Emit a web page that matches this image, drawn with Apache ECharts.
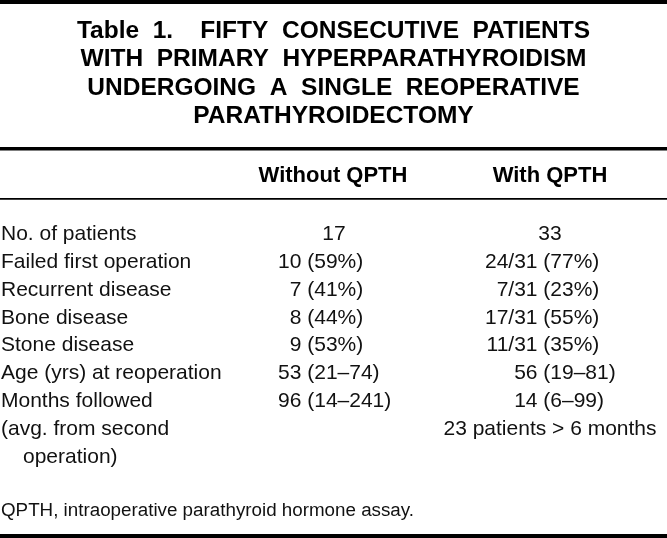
<!DOCTYPE html>
<html><head><meta charset="utf-8">
<script src="https://cdn.jsdelivr.net/npm/echarts@6/dist/echarts.min.js"></script>
<style>html,body{margin:0;padding:0;background:#fff}#c{width:667px;height:538px}</style>
</head><body><div id="c"></div>
<script>
// ---- table content ----
const titleLines = ['Table 1.  FIFTY CONSECUTIVE PATIENTS', 'WITH PRIMARY HYPERPARATHYROIDISM', 'UNDERGOING A SINGLE REOPERATIVE', 'PARATHYROIDECTOMY'];
const columnHeaders = ['Without QPTH', 'With QPTH'];
const rowLabels = ['No. of patients', 'Failed first operation', 'Recurrent disease', 'Bone disease', 'Stone disease', 'Age (yrs) at reoperation', 'Months followed', '(avg. from second\noperation)'];
const withoutQPTH = ['17', '10 (59%)', '7 (41%)', '8 (44%)', '9 (53%)', '53 (21–74)', '96 (14–241)', ''];
const withQPTH = ['33', '24/31 (77%)', '7/31 (23%)', '17/31 (55%)', '11/31 (35%)', '56 (19–81)', '14 (6–99)', '23 patients > 6 months'];
const footnote = 'QPTH, intraoperative parathyroid hormone assay.';

// ---- layout ----
const FONT = "'Liberation Sans', Arial, Helvetica, sans-serif";
const W = 667;
const colCenters = [334, 550];     // x-axis values of column centres
const colAnchors = [301.4, 537.5]; // alignment point (before the parenthesis)
const labelX = 1, hangIndent = 22;
const bodySize = 21, ink = '#111';

const chart = echarts.init(document.getElementById('c'), null, {renderer: 'canvas'});

function txt(s, x, y, align) {
  return {
    type: 'text', x: x, y: y,
    style: {text: s, fill: ink, fontSize: bodySize, fontFamily: FONT,
      align: align, textAlign: align, verticalAlign: 'middle', textVerticalAlign: 'middle'}
  };
}

function cellTexts(api, str, col, cy) {
  if (!str) return [];
  const m = str.match(/^(\S+)( \(.*\))$/);
  if (!m) return [txt(str, api.coord([colCenters[col], 0])[0], cy, 'center')];
  const ax = api.coord([colAnchors[col], 0])[0];
  return [txt(m[1], ax, cy, 'right'), txt(m[2], ax, cy, 'left')];
}

const data = rowLabels.map((l, i) => [0, i]);
// justified-style wide word spacing of the typeset title
const titleText = titleLines.map(l => l.replace(/ /g, '  ')).join('\n');

chart.setOption({
  animation: false,
  backgroundColor: '#fff',
  title: {
    text: titleText, left: 'center', top: 17, padding: 0,
    textStyle: {fontFamily: FONT, fontSize: 24.5, fontWeight: 'bold', color: '#000', lineHeight: 28.4}
  },
  grid: {left: 0, right: 0, top: 220.6, height: 222.4, containLabel: false},
  xAxis: {type: 'value', min: 0, max: W, show: false},
  yAxis: {type: 'category', data: rowLabels, inverse: true, show: false},
  graphic: [
    {type: 'rect', shape: {x: 0, y: 0, width: W, height: 4}, style: {fill: '#000'}},
    {type: 'rect', shape: {x: 0, y: 147, width: W, height: 3.5}, style: {fill: '#000'}},
    {type: 'rect', shape: {x: 0, y: 198, width: W, height: 1.8}, style: {fill: '#000'}},
    {type: 'rect', shape: {x: 0, y: 534, width: W, height: 4}, style: {fill: '#000'}},
    {type: 'text', x: colCenters[0] - 1, y: 176, style: {text: columnHeaders[0], fill: '#000', fontSize: 22, fontWeight: 'bold', fontFamily: FONT, align: 'center', textAlign: 'center', verticalAlign: 'middle', textVerticalAlign: 'middle'}},
    {type: 'text', x: colCenters[1], y: 176, style: {text: columnHeaders[1], fill: '#000', fontSize: 22, fontWeight: 'bold', fontFamily: FONT, align: 'center', textAlign: 'center', verticalAlign: 'middle', textVerticalAlign: 'middle'}},
    {type: 'text', x: labelX, y: 511, style: {text: footnote, fill: ink, fontSize: 18.8, fontFamily: FONT, align: 'left', textAlign: 'left', verticalAlign: 'middle', textVerticalAlign: 'middle'}}
  ],
  series: [{
    type: 'custom',
    clip: false,
    data: data,
    encode: {x: 0, y: 1},
    renderItem: function (params, api) {
      const r = api.value(1);
      const cy = api.coord([0, r])[1];
      const step = api.size([0, 1])[1];
      const children = [];
      rowLabels[r].split('\n').forEach((line, j) => {
        children.push(txt(line, j ? labelX + hangIndent : labelX, cy + j * step, 'left'));
      });
      children.push(...cellTexts(api, withoutQPTH[r], 0, cy));
      children.push(...cellTexts(api, withQPTH[r], 1, cy));
      return {type: 'group', children: children};
    }
  }]
});
</script>
</body></html>
